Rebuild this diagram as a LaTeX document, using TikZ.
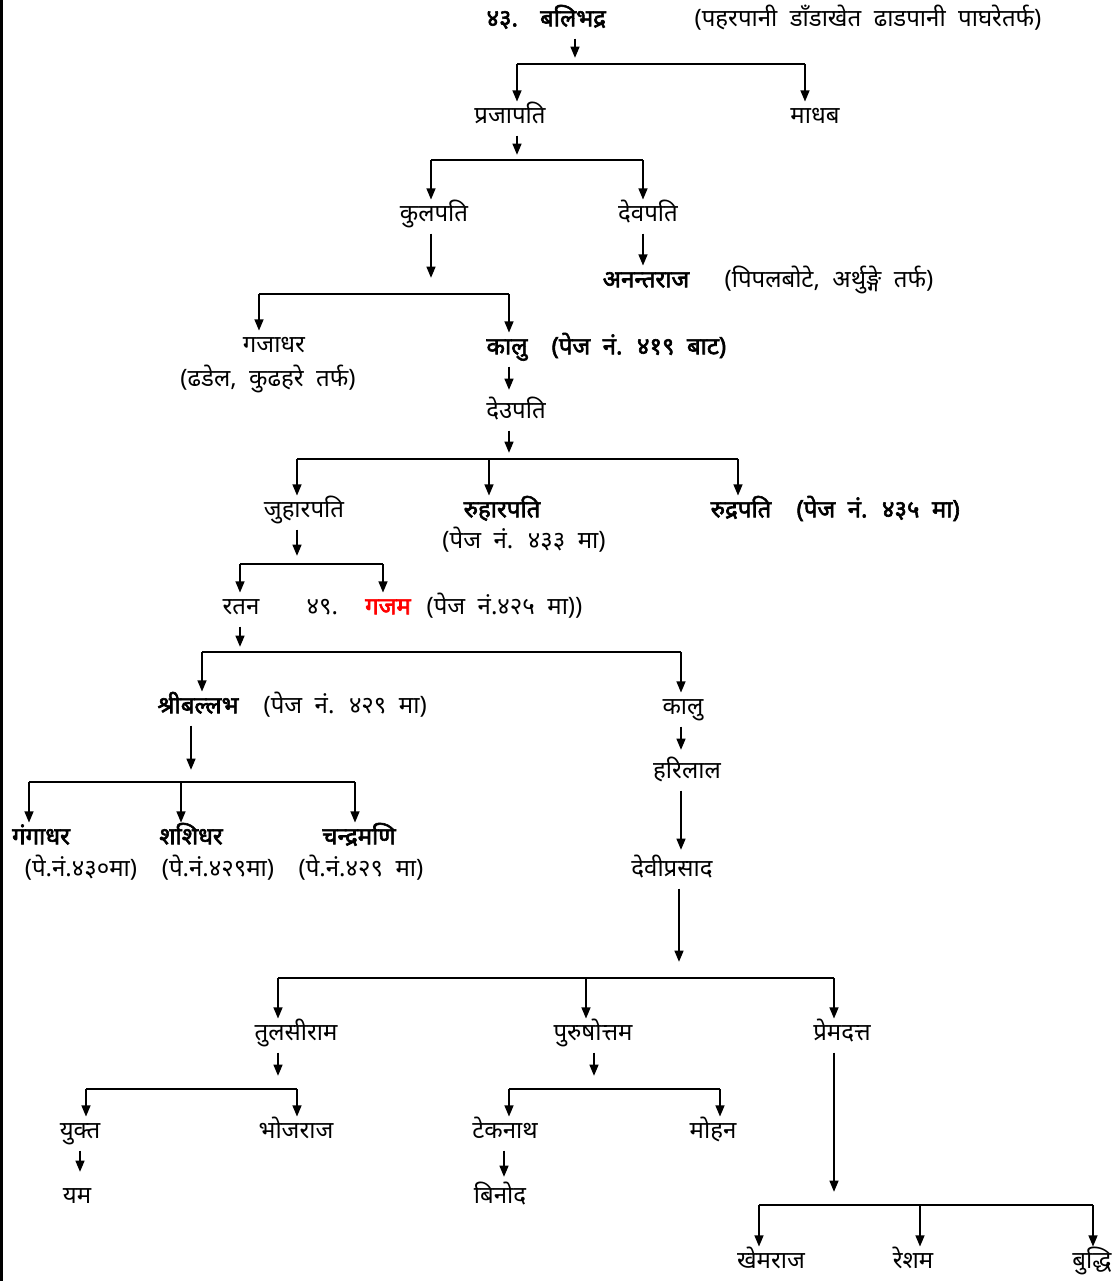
\documentclass[tikz,border=0pt]{standalone}
\usepackage{fontspec}
\setmainfont[Script=Devanagari, WordSpace=2, BoldFont={Noto Sans}, BoldFeatures={FakeBold=2.5}]{Noto Sans}
\usetikzlibrary{arrows.meta}
\begin{document}
\begin{tikzpicture}[x=0.75pt,y=-0.75pt,
  every node/.style={inner sep=1pt, text height=15pt, text depth=4pt, font=\fontsize{18}{21}\selectfont},
  bn/.style={font=\fontsize{18}{21}\selectfont\bfseries},
  arr/.style={line width=1.7pt, -{Triangle[length=8.5pt,width=6.5pt]}},
  down/.style={arr, shorten <=4pt},
  br/.style={line width=1.7pt}]
\useasboundingbox (0,0) rectangle (1119,1281);
\draw[line width=2.2pt] (1.5,0) -- (1.5,1281);

% top
\node[bn, anchor=west] (n43) at (485,19) {४३.};
\node[bn] (balibhadra) at (573,19) {बलिभद्र};
\node[anchor=west] (n43note) at (693,19) {(पहरपानी डाँडाखेत ढाडपानी पाघरेतर्फ)};
\coordinate (t1) at (575,58);
\draw[down] (balibhadra.south -| t1) -- (t1);

\coordinate (b1l) at (517,64);
\coordinate (b1r) at (805,64);
\node (prajapati) at (510,116) {प्रजापति};
\node (madhab) at (815,116) {माधब};
\draw[br] (b1l) -- (b1r);
\draw[arr] (b1l) -- (b1l |- prajapati.north);
\draw[arr] (b1r) -- (b1r |- madhab.north);

\coordinate (t2) at (517,155);
\draw[down] (prajapati.south -| t2) -- (t2);
\coordinate (b2l) at (431,160);
\coordinate (b2r) at (643,160);
\node (kulpati) at (434,214) {कुलपति};
\node (devpati) at (648,214) {देवपति};
\draw[br] (b2l) -- (b2r);
\draw[arr] (b2l) -- (b2l |- kulpati.north);
\draw[arr] (b2r) -- (b2r |- devpati.north);

\node[bn] (anantaraj) at (646,280) {अनन्तराज};
\node[anchor=west] (anantanote) at (723,280) {(पिपलबोटे, अर्थुङ्गे तर्फ)};
\draw[down] (devpati.south -| b2r) -- (b2r |- anantaraj.north);

% kulpati
\coordinate (t3) at (431,278);
\draw[down] (kulpati.south -| t3) -- (t3);
\coordinate (b3l) at (259,294);
\coordinate (b3r) at (509,294);
\node (gajadhar) at (274,345) {गजाधर};
\node (gajadharnote) at (268,379) {(ढडेल, कुढहरे तर्फ)};
\node[bn] (kalu) at (507,347) {कालु};
\node[bn, anchor=west] (kalunote) at (550,347) {(पेज नं. ४१९ बाट)};
\draw[br] (b3l) -- (b3r);
\draw[arr] (b3l) -- (b3l |- gajadhar.north);
\draw[arr] (b3r) -- (b3r |- kalu.north);

\coordinate (t4) at (509,390);
\draw[down] (kalu.south -| t4) -- (t4);
\node (deupati) at (516,411) {देउपति};
\coordinate (t5) at (509,453);
\draw[down] (deupati.south -| t5) -- (t5);

\coordinate (b4l) at (297,459);
\coordinate (b4m) at (489,459);
\coordinate (b4r) at (738,459);
\node (juharpati) at (304,510) {जुहारपति};
\node[bn] (ruharpati) at (502,510) {रुहारपति};
\node (ruharnote) at (524,541) {(पेज नं. ४३३ मा)};
\node[bn] (rudrapati) at (741,510) {रुद्रपति};
\node[bn, anchor=west] (rudranote) at (795,510) {(पेज नं. ४३५ मा)};
\draw[br] (b4l) -- (b4r);
\draw[arr] (b4l) -- (b4l |- juharpati.north);
\draw[arr] (b4m) -- (b4m |- ruharpati.north);
\draw[arr] (b4r) -- (b4r |- rudrapati.north);

% juharpati
\coordinate (t6) at (297,556);
\draw[down] (juharpati.south -| t6) -- (t6);
\coordinate (b5l) at (240,564);
\coordinate (b5r) at (383,564);
\node (ratan) at (241,607) {रतन};
\node[anchor=west] (n49) at (305,607) {४९.};
\node[bn, text=red] (gajam) at (388,607) {गजम};
\node[anchor=west] (gajamnote) at (425,607) {(पेज नं.४२५ मा))};
\draw[br] (b5l) -- (b5r);
\draw[arr] (b5l) -- (b5l |- ratan.north);
\draw[arr] (b5r) -- (b5r |- gajam.north);

\coordinate (t7) at (240,647);
\draw[down] (ratan.south -| t7) -- (t7);
\coordinate (b6l) at (202,652);
\coordinate (b6r) at (681,652);
\node[bn] (shriballabh) at (198,706) {श्रीबल्लभ};
\node[anchor=west] (shrinote) at (262,706) {(पेज नं. ४२९ मा)};
\node (kalub) at (683,707) {कालु};
\draw[br] (b6l) -- (b6r);
\draw[arr] (b6l) -- (b6l |- shriballabh.north);
\draw[arr] (b6r) -- (b6r |- kalub.north);

% kalu line
\coordinate (t8) at (681,750);
\draw[down] (kalub.south -| t8) -- (t8);
\node (harilal) at (687,771) {हरिलाल};
\coordinate (t9) at (681,850);
\draw[down] (harilal.south -| t9) -- (t9);
\node (deviprasad) at (672,869) {देवीप्रसाद};

% shriballabh
\coordinate (t10) at (191,770);
\draw[down] (shriballabh.south -| t10) -- (t10);
\coordinate (b7l) at (29,782);
\coordinate (b7m) at (181,782);
\coordinate (b7r) at (355,782);
\node[bn] (gangadhar) at (41,837) {गंगाधर};
\node[bn] (shashidhar) at (191,837) {शशिधर};
\node[bn] (chandramani) at (359,837) {चन्द्रमणि};
\node (gangadharnote) at (81,869) {(पे.नं.४३०मा)};
\node (shashidharnote) at (218,869) {(पे.नं.४२९मा)};
\node (chandramaninote) at (361,869) {(पे.नं.४२९ मा)};
\draw[br] (b7l) -- (b7r);
\draw[arr] (b7l) -- (b7l |- gangadhar.north);
\draw[arr] (b7m) -- (b7m |- shashidhar.north);
\draw[arr] (b7r) -- (b7r |- chandramani.north);

% deviprasad
\coordinate (t11) at (679,962);
\draw[down] (deviprasad.south -| t11) -- (t11);
\coordinate (b8l) at (278,978);
\coordinate (b8m) at (586,978);
\coordinate (b8r) at (834,978);
\node (tulsiram) at (296,1033) {तुलसीराम};
\node (purushottam) at (593,1033) {पुरुषोत्तम};
\node (premdatta) at (842,1033) {प्रेमदत्त};
\draw[br] (b8l) -- (b8r);
\draw[arr] (b8l) -- (b8l |- tulsiram.north);
\draw[arr] (b8m) -- (b8m |- purushottam.north);
\draw[arr] (b8r) -- (b8r |- premdatta.north);

\coordinate (t12) at (278,1076);
\draw[down] (tulsiram.south -| t12) -- (t12);
\coordinate (b9l) at (86,1089);
\coordinate (b9r) at (297,1089);
\node (yukta) at (80,1131) {युक्त};
\node (bhojraj) at (296,1131) {भोजराज};
\draw[br] (b9l) -- (b9r);
\draw[arr] (b9l) -- (b9l |- yukta.north);
\draw[arr] (b9r) -- (b9r |- bhojraj.north);
\coordinate (t14) at (80,1172);
\draw[down] (yukta.south -| t14) -- (t14);
\node (yam) at (77,1196) {यम};

\coordinate (t13) at (594,1076);
\draw[down] (purushottam.south -| t13) -- (t13);
\coordinate (b10l) at (509,1089);
\coordinate (b10r) at (720,1089);
\node (teknath) at (505,1131) {टेकनाथ};
\node (mohan) at (713,1131) {मोहन};
\draw[br] (b10l) -- (b10r);
\draw[arr] (b10l) -- (b10l |- teknath.north);
\draw[arr] (b10r) -- (b10r |- mohan.north);
\coordinate (t15) at (504,1177);
\draw[down] (teknath.south -| t15) -- (t15);
\node (binod) at (500,1196) {बिनोद};

\coordinate (t16) at (834,1192);
\draw[down] (premdatta.south -| t16) -- (t16);
\coordinate (b11l) at (759,1205);
\coordinate (b11m) at (920,1205);
\coordinate (b11r) at (1093,1205);
\node (khemraj) at (771,1261) {खेमराज};
\node (resham) at (913,1261) {रेशम};
\node (buddhi) at (1092,1261) {बुद्धि};
\draw[br] (b11l) -- (b11r);
\draw[arr] (b11l) -- (b11l |- khemraj.north);
\draw[arr] (b11m) -- (b11m |- resham.north);
\draw[arr] (b11r) -- (b11r |- buddhi.north);
\end{tikzpicture}
\end{document}
